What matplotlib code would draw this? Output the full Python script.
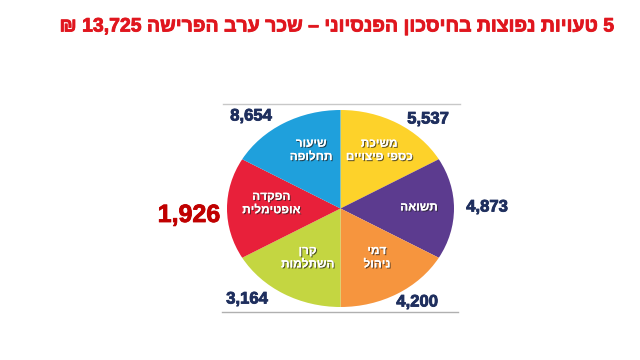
import re
import matplotlib.pyplot as plt
import matplotlib.patheffects as pe

# chart content (Hebrew written in logical order)
title = "5 טעויות נפוצות בחיסכון הפנסיוני – שכר ערב הפרישה 13,725 ₪"
topics = ["משיכת\nכספי פיצויים", "תשואה", "דמי\nניהול",
          "קרן\nהשתלמות", "הפקדה\nאופטימלית", "שיעור\nתחלופה"]
amounts = ["5,537", "4,873", "4,200", "3,164", "1,926", "8,654"]
shares = [1, 1, 1, 1, 1, 1]
colors = ["#fdd22a", "#5c3b8f", "#f6953e", "#c4d641", "#e8203a", "#1fa0dc"]

# label centres inside the pie (pie units, -1..1)
topic_xy = [(0.34, 0.59), (0.69, 0.01), (0.32, -0.50),
            (-0.29, -0.50), (-0.61, 0.05), (-0.26, 0.59)]
# where each amount sits (pixels in the 640x360 image)
amount_pos = [(428, 119), (487, 207), (417, 302), (247, 299), (189, 215), (251, 116)]


def rtl(s):
    # matplotlib has no bidi: flip Hebrew runs, keep number runs as they are
    out = []
    for line in s.split("\n"):
        toks = re.findall(r"[\d,]+|[^\d,]+", line)
        out.append("".join(t if t[0].isdigit() else t[::-1] for t in reversed(toks)))
    return "\n".join(out)


W, H = 640, 360
fig = plt.figure(figsize=(6.4, 3.6), dpi=100)
fig.patch.set_facecolor("white")
fam = ["Liberation Sans", "DejaVu Sans"]


def px(x, y):
    return x / W, 1 - y / H


# pie is an ellipse: 227 px wide, 197 px tall, centre (341, 208)
ax = fig.add_axes([227 / W, 1 - 307 / H, 227 / W, 197 / H])
wedges, _ = ax.pie(shares, colors=colors, startangle=90, counterclock=False,
                   wedgeprops=dict(linewidth=0))
ax.set_aspect("auto")
ax.set_xlim(-1, 1)
ax.set_ylim(-1, 1)
ax.axis("off")

shadow = [pe.withSimplePatchShadow(offset=(0.8, -0.8), shadow_rgbFace="#222222", alpha=0.7),
          pe.Normal()]
for (x, y), lab in zip(topic_xy, topics):
    ax.text(x, y, rtl(lab), ha="center", va="center",
            color="white", fontsize=8.5, fontweight="bold", family=fam,
            multialignment="center", linespacing=1.15, path_effects=shadow)

for i, (val, (x, y)) in enumerate(zip(amounts, amount_pos)):
    big = i == 4
    col = "#c00000" if big else "#1f2f5e"
    fig.text(*px(x, y), val, ha="center", va="center", fontsize=18 if big else 12,
             fontweight="bold", color=col, family=fam,
             path_effects=[pe.withStroke(linewidth=0.6, foreground=col)])

# thin grey rules above and below the pie
line_ax = fig.add_axes([0, 0, 1, 1], zorder=-1)
line_ax.set_xlim(0, W)
line_ax.set_ylim(H, 0)
line_ax.axis("off")
line_ax.plot([223, 460], [104, 104], color="#c8c8c8", lw=1)
line_ax.plot([222, 458], [312, 312], color="#b0b0b0", lw=1)

fig.text(*px(615, 27), rtl(title), ha="right", va="center", fontsize=14,
         fontweight="bold", color="#e0161e", family=fam,
         path_effects=[pe.withStroke(linewidth=0.6, foreground="#e0161e")])

fig.savefig("out.png", dpi=100, facecolor="white")
